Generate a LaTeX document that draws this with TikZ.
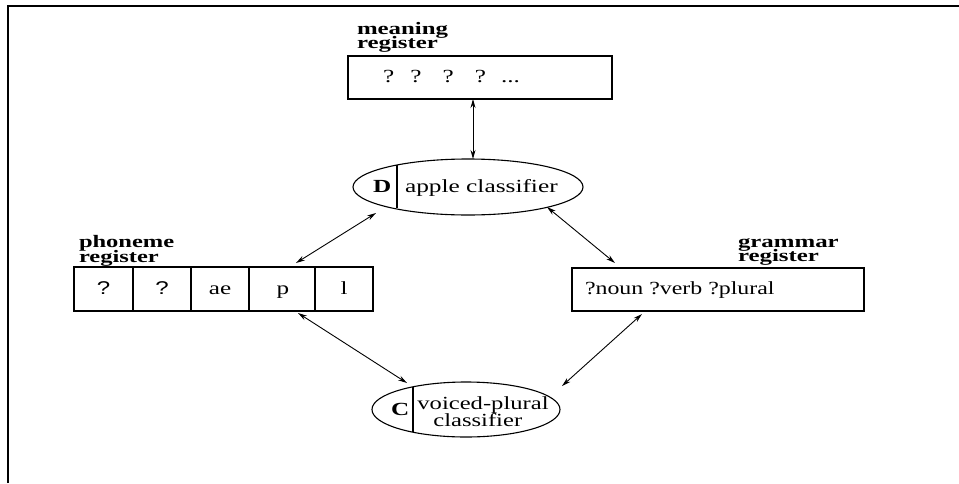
\documentclass[tikz,border=0pt]{standalone}
\usepackage{fontspec}
\usepackage{graphicx}
\setmainfont{Liberation Serif}
\newfontfamily\sansq{Liberation Sans}
\usetikzlibrary{shapes.geometric,arrows.meta,calc}
\newcommand\wt[2][1.36]{\scalebox{#1}[1]{#2}}
\newcommand\twolines[3]{\vtop{\baselineskip=#1\lineskiplimit=-100pt\hbox{#2}\hbox{#3}}}
\begin{document}
\begin{tikzpicture}[x=1pt,y=-1pt,
  every node/.style={font=\fontsize{18.5}{18.5}\selectfont, inner sep=0pt, outer sep=0pt},
  regbox/.style={draw, line width=1.1pt, inner sep=0pt},
  cell/.style={draw, line width=1.1pt, minimum height=44pt},
  classell/.style={ellipse, draw, line width=1.1pt, inner sep=0pt},
  lbl/.style={anchor=base west, font=\fontsize{17.5}{17.5}\selectfont\bfseries},
  txt/.style={anchor=base west},
  biarrow/.style={{Stealth[length=9pt,width=5pt]}-{Stealth[length=9pt,width=5pt]}, line width=0.9pt}
]
\useasboundingbox (0,0) rectangle (959,483);
% frame
\draw[line width=1.6pt] (8,483) -- (8,6) -- (959,6);

% meaning register
\node[lbl] (mlab) at (357,34.5) {\wt[1.42]{\twolines{14pt}{meaning}{register}}};
\node[regbox, minimum width=264pt, minimum height=43pt] (mbox) at (480,77.5) {};
\node[txt] (mtxt) at (383,82) {\wt{?\hspace{12pt}?\hspace{15.5pt}?\hspace{15.5pt}?\hspace{11pt}...}};

% apple classifier
\node[classell, minimum width=230pt, minimum height=56pt] (apple) at (468,187) {};
\draw[line width=1.1pt] (397,165) -- (397,208);
\node[txt, font=\fontsize{18.5}{18.5}\selectfont\bfseries] (dlab) at (373,192.5) {\wt{D}};
\node[txt] (atxt) at (405,192.5) {\wt[1.37]{apple classifier}};

% phoneme register
\node[lbl] (plab) at (79,247) {\wt[1.40]{\twolines{15pt}{phoneme}{register}}};
\node[cell, minimum width=59pt] (ph1) at (103.5,289) {};
\node[cell, minimum width=58pt] (ph2) at (162,289) {};
\node[cell, minimum width=58pt] (ph3) at (220,289) {};
\node[cell, minimum width=66pt] (ph4) at (282,289) {};
\node[cell, minimum width=58pt] (ph5) at (344,289) {};
\node[anchor=base] (pt1) at (103.5,294.5) {\sansq\wt[1.3]{?}};
\node[anchor=base] (pt2) at (162,294.5) {\sansq\wt[1.3]{?}};
\node[anchor=base] (pt3) at (220,294.5) {\wt{ae}};
\node[anchor=base] (pt4) at (283,294.5) {\wt{p}};
\node[anchor=base] (pt5) at (344,294.5) {\wt{l}};

% grammar register
\node[lbl] (glab) at (738,247) {\wt[1.42]{\twolines{14pt}{grammar}{register}}};
\node[regbox, minimum width=292pt, minimum height=43pt] (gbox) at (718,289.5) {};
\node[txt] (gtxt) at (585,294) {\wt[1.29]{?noun ?verb ?plural}};

% voiced-plural classifier
\node[classell, minimum width=188pt, minimum height=55pt] (vpc) at (466,409.5) {};
\draw[line width=1.1pt] (413,387) -- (413,432);
\node[txt, font=\fontsize{18.5}{18.5}\selectfont\bfseries] (clab) at (391,415.5) {\wt{C}};
\node[anchor=base] (vt) at (483,409) {\wt[1.33]{\twolines{17pt}{voiced-plural}{\hskip12pt classifier}}};

% connectors
\draw[biarrow] ($(mbox.south)+(-7,0)$) -- ($(apple.north)+(5,0)$);
\draw[biarrow] ($(apple.center)+(-92,26)$) -- ($(ph4.north)+(14,-4)$);
\draw[biarrow] ($(apple.center)+(79,20)$) -- ($(gbox.north west)+(43,-5)$);
\draw[biarrow] ($(ph4.south)+(16,2)$) -- ($(vpc.center)+(-59,-26.5)$);
\draw[biarrow] ($(gbox.south west)+(70,3)$) -- ($(vpc.center)+(96,-23.5)$);
\end{tikzpicture}
\end{document}
